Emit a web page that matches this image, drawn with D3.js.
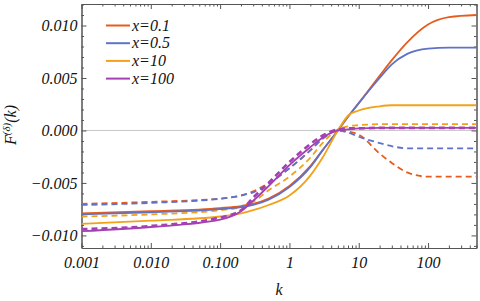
<!DOCTYPE html>
<html lang="en"><head><meta charset="utf-8">
<title>F(k) curves</title>
<script src="https://cdn.jsdelivr.net/npm/d3@7"></script>
<style>
  body { margin: 0; background: #fff; }
  svg text { font-family: "Liberation Serif", "Times New Roman", "DejaVu Serif", serif; font-style: italic; }
</style>
</head>
<body>
<script>
    // chart values
    var kValues = [0.001, 0.01, 0.1, 0.2, 0.3, 0.5, 1, 2, 3, 5, 7, 10, 20, 30, 50, 100, 200, 500];

    var seriesNames = ["x=0.1", "x=0.5", "x=10", "x=100"];
    var seriesColors = ["#e65c1e", "#6072c8", "#f2a21a", "#a540b4"];

    // solid lines
    var solid01 = [-0.0079, -0.0077, -0.0074, -0.0072, -0.0070, -0.0065, -0.0053, -0.0034, -0.0019, 0.0, 0.0013, 0.0026, 0.0052, 0.0067, 0.0084, 0.0101, 0.0108, 0.0110];
    var solid05 = [-0.0080, -0.0078, -0.0075, -0.0073, -0.0071, -0.0066, -0.0054, -0.0035, -0.0019, 0.0, 0.0013, 0.0026, 0.0050, 0.0063, 0.0073, 0.0078, 0.0079, 0.0079];
    var solid10 = [-0.0089, -0.0086, -0.0082, -0.0079, -0.0076, -0.0071, -0.0062, -0.0043, -0.0026, 0.0, 0.0014, 0.0019, 0.0023, 0.0024, 0.0024, 0.0024, 0.0024, 0.0024];
    var solid100 = [-0.0096, -0.0092, -0.0085, -0.0077, -0.0067, -0.0053, -0.0033, -0.0016, -0.0007, 0.0, 0.0001, 0.0002, 0.00025, 0.00025, 0.00025, 0.00025, 0.00025, 0.00025];

    // dashed lines
    var dashed01 = [-0.0070, -0.0068, -0.0065, -0.0062, -0.0058, -0.0050, -0.0036, -0.0019, -0.0008, 0.0, -0.0001, -0.0004, -0.0022, -0.0031, -0.0040, -0.0044, -0.0044, -0.0044];
    var dashed05 = [-0.0071, -0.0069, -0.0065, -0.0062, -0.0059, -0.0051, -0.0036, -0.0019, -0.0008, 0.0, -0.0002, -0.0006, -0.0012, -0.0015, -0.0017, -0.0017, -0.0017, -0.0017];
    var dashed10 = [-0.0082, -0.0080, -0.0076, -0.0073, -0.0068, -0.0057, -0.0044, -0.0026, -0.0012, 0.0001, 0.0004, 0.0005, 0.0006, 0.0006, 0.0006, 0.0006, 0.0006, 0.0006];
    var dashed100 = [-0.0094, -0.0091, -0.0083, -0.0076, -0.0064, -0.0050, -0.0030, -0.0013, -0.0005, 0.0001, 0.0002, 0.0002, 0.00025, 0.00025, 0.00025, 0.00025, 0.00025, 0.00025];

    var xTickValues = [0.001, 0.01, 0.1, 1, 10, 100];
    var xTickLabels = ["0.001", "0.010", "0.100", "1", "10", "100"];
    var yTickValues = [-0.01, -0.005, 0, 0.005, 0.01];
    var yTickLabels = ["\u22120.010", "\u22120.005", "0.000", "0.005", "0.010"];

    var width = 480;
    var height = 301;
    var plotLeft = 81.5, plotRight = 476.5, plotTop = 4, plotBottom = 248;

    var xScale = d3.scaleLog().domain([0.001, 500]).range([plotLeft, plotRight]);
    var yScale = d3.scaleLinear().domain([-0.0112, 0.01205]).range([plotBottom, plotTop]);

    var svg = d3.select("body").append("svg")
        .attr("width", width)
        .attr("height", height);

    svg.append("clipPath").attr("id", "plotClip")
        .append("rect")
        .attr("x", plotLeft).attr("y", plotTop)
        .attr("width", plotRight - plotLeft).attr("height", plotBottom - plotTop);

    // zero line
    svg.append("line")
        .attr("x1", plotLeft).attr("x2", plotRight)
        .attr("y1", yScale(0)).attr("y2", yScale(0))
        .attr("stroke", "#c8c8c8")
        .attr("stroke-width", 1);

    // minor tick values
    var xMinor = [];
    for (var e = -3; e <= 2; e++) {
        for (var m = 2; m <= 9; m++) {
            var v = m * Math.pow(10, e);
            if (v <= 500) xMinor.push(v);
        }
    }
    var yMinor = d3.range(-11, 13).map(function (i) { return i / 1000; })
        .filter(function (v) { return Math.abs(v * 200 - Math.round(v * 200)) > 1e-9; });

    function styleAxis(g) {
        g.select(".domain").attr("stroke", "#555").attr("stroke-width", 1);
        g.selectAll(".tick line").attr("stroke", "#555");
        g.selectAll("text")
            .attr("fill", "#111")
            .attr("font-size", 16)
            .attr("font-family", null);
    }

    // bottom + top
    svg.append("g")
        .attr("transform", "translate(0," + plotBottom + ")")
        .call(d3.axisBottom(xScale).tickValues(xMinor).tickSize(-2.5).tickSizeOuter(0).tickFormat(""))
        .call(styleAxis);
    svg.append("g")
        .attr("transform", "translate(0," + plotBottom + ")")
        .call(d3.axisBottom(xScale).tickValues(xTickValues).tickSize(-5).tickSizeOuter(0).tickPadding(8.5)
            .tickFormat(function (d, i) { return xTickLabels[i]; }))
        .call(styleAxis);
    svg.append("g")
        .attr("transform", "translate(0," + plotTop + ")")
        .call(d3.axisTop(xScale).tickValues(xMinor).tickSize(-2.5).tickSizeOuter(0).tickFormat(""))
        .call(styleAxis);
    svg.append("g")
        .attr("transform", "translate(0," + plotTop + ")")
        .call(d3.axisTop(xScale).tickValues(xTickValues).tickSize(-5).tickSizeOuter(0).tickFormat(""))
        .call(styleAxis);

    // left + right
    svg.append("g")
        .attr("transform", "translate(" + plotLeft + ",0)")
        .call(d3.axisLeft(yScale).tickValues(yMinor).tickSize(-2.5).tickSizeOuter(0).tickFormat(""))
        .call(styleAxis);
    svg.append("g")
        .attr("transform", "translate(" + plotLeft + ",0)")
        .call(d3.axisLeft(yScale).tickValues(yTickValues).tickSize(-5).tickSizeOuter(0).tickPadding(4)
            .tickFormat(function (d, i) { return yTickLabels[i]; }))
        .call(styleAxis);
    svg.append("g")
        .attr("transform", "translate(" + plotRight + ",0)")
        .call(d3.axisRight(yScale).tickValues(yMinor).tickSize(-2.5).tickSizeOuter(0).tickFormat(""))
        .call(styleAxis);
    svg.append("g")
        .attr("transform", "translate(" + plotRight + ",0)")
        .call(d3.axisRight(yScale).tickValues(yTickValues).tickSize(-5).tickSizeOuter(0).tickFormat(""))
        .call(styleAxis);

    var line = d3.line()
        .x(function (d) { return xScale(d[0]); })
        .y(function (d) { return yScale(d[1]); })
        .curve(d3.curveMonotoneX);

    function pairs(vals) {
        return kValues.map(function (k, i) { return [k, vals[i]]; });
    }

    var curves = [
        { vals: dashed01, color: 0, dashed: true },
        { vals: dashed05, color: 1, dashed: true },
        { vals: dashed10, color: 2, dashed: true },
        { vals: solid01, color: 0, dashed: false },
        { vals: solid05, color: 1, dashed: false },
        { vals: solid10, color: 2, dashed: false },
        { vals: solid100, color: 3, dashed: false },
        { vals: dashed100, color: 3, dashed: true }
    ];

    svg.append("g")
        .attr("clip-path", "url(#plotClip)")
        .selectAll("path")
        .data(curves)
        .enter().append("path")
        .attr("d", function (d) { return line(pairs(d.vals)); })
        .attr("fill", "none")
        .attr("stroke", function (d) { return seriesColors[d.color]; })
        .attr("stroke-width", function (d) { return d.dashed && d.color == 3 ? 2.6 : 1.8; })
        .attr("stroke-dasharray", function (d) { return d.dashed ? "6,4" : null; });

    // legend
    var legend = svg.selectAll(".legend")
        .data(seriesNames)
        .enter().append("g")
        .attr("class", "legend")
        .attr("transform", function (d, i) {
            return "translate(106," + (25.5 + i * 17.7) + ")";
        });
    legend.append("line")
        .attr("x1", 0).attr("x2", 24)
        .attr("stroke", function (d, i) { return seriesColors[i]; })
        .attr("stroke-width", 2);
    legend.append("text")
        .attr("x", 26)
        .attr("y", 5)
        .attr("font-size", 16)
        .attr("fill", "#111")
        .text(function (d) { return d; });

    // axis labels
    svg.append("text")
        .attr("x", (plotLeft + plotRight) / 2)
        .attr("y", 295)
        .attr("text-anchor", "middle")
        .attr("font-size", 16)
        .attr("fill", "#111")
        .text("k");

    var yLabel = svg.append("text")
        .attr("transform", "translate(16,125) rotate(-90)")
        .attr("text-anchor", "middle")
        .attr("font-size", 16)
        .attr("fill", "#111");
    yLabel.append("tspan").text("F");
    yLabel.append("tspan").attr("font-size", 11).attr("dy", -6).text("(\u03b4)");
    yLabel.append("tspan").attr("dy", 6).text("(k)");
</script>
</body></html>
